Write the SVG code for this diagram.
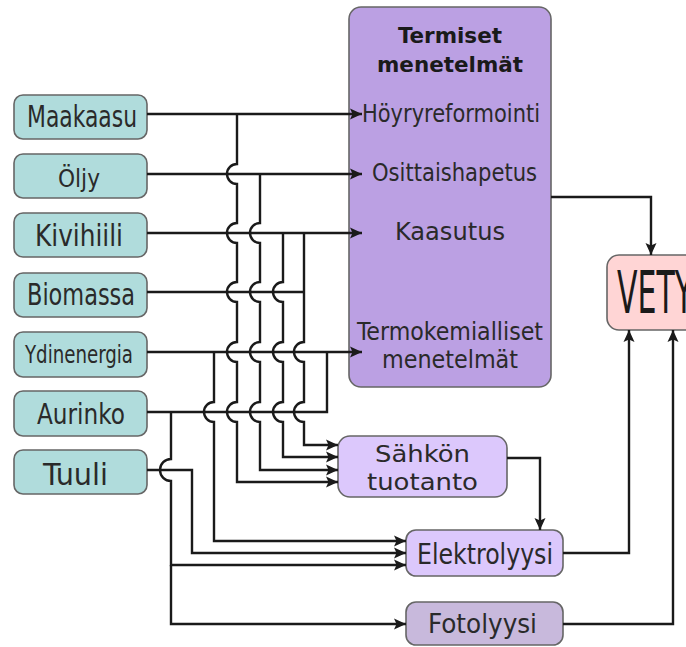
<svg xmlns="http://www.w3.org/2000/svg" width="686" height="647" viewBox="0 0 686 647">
<defs>
<marker id="ah" markerUnits="userSpaceOnUse" markerWidth="13" markerHeight="11" refX="12" refY="5.5" orient="auto" overflow="visible">
<path d="M0,0 L12,5.5 L0,11 L2.5,5.5 z" fill="#1a1a1a"/>
</marker>
<style>
.src rect{fill:#b0dcdc;stroke:#666;stroke-width:1.6}
.t{font-family:"DejaVu Sans Condensed","DejaVu Sans","Liberation Sans",sans-serif;font-stretch:condensed;fill:#2a2a2a;text-anchor:middle}
.b{font-weight:bold;fill:#1a1a1a}
.ln{fill:none;stroke:#1a1a1a;stroke-width:2.4}
.ar{marker-end:url(#ah)}
</style>
</defs>
<rect width="686" height="647" fill="#fff"/>

<g id="termiset">
<rect x="349" y="7" width="202" height="380" rx="12" fill="#bba0e3" stroke="#666" stroke-width="1.6"/>
<text class="t b" x="450" y="43" font-size="22" textLength="104" lengthAdjust="spacingAndGlyphs">Termiset</text>
<text class="t b" x="450" y="72" font-size="22" textLength="146" lengthAdjust="spacingAndGlyphs">menetelmät</text>
<text class="t" x="451" y="122" font-size="25" textLength="178" lengthAdjust="spacingAndGlyphs">Höyryreformointi</text>
<text class="t" x="454.5" y="181" font-size="24" textLength="165" lengthAdjust="spacingAndGlyphs">Osittaishapetus</text>
<text class="t" x="450" y="240" font-size="24" textLength="110" lengthAdjust="spacingAndGlyphs">Kaasutus</text>
<text class="t" x="450" y="340" font-size="24" textLength="186" lengthAdjust="spacingAndGlyphs">Termokemialliset</text>
<text class="t" x="450" y="368" font-size="24" textLength="136" lengthAdjust="spacingAndGlyphs">menetelmät</text>
</g>

<g id="vety">
<rect x="607" y="255" width="110" height="75" rx="12" fill="#ffd5d5" stroke="#666" stroke-width="1.6"/>
<text class="t" x="617" y="313" font-size="59" textLength="76" lengthAdjust="spacingAndGlyphs" style="text-anchor:start;fill:#1a1a1a">VETY</text>
</g>

<g id="sahkon">
<rect x="338" y="436" width="169" height="61" rx="12" fill="#dcc8fc" stroke="#666" stroke-width="1.6"/>
<text class="t" x="422.5" y="462" font-size="23" textLength="95" lengthAdjust="spacingAndGlyphs">Sähkön</text>
<text class="t" x="422.5" y="490" font-size="23" textLength="111" lengthAdjust="spacingAndGlyphs">tuotanto</text>
</g>

<g id="elektrolyysi">
<rect x="406" y="530" width="157" height="46" rx="10" fill="#dcc8fc" stroke="#666" stroke-width="1.6"/>
<text class="t" x="485" y="564" font-size="28" textLength="136" lengthAdjust="spacingAndGlyphs">Elektrolyysi</text>
</g>

<g id="fotolyysi">
<rect x="406" y="602" width="157" height="43" rx="10" fill="#c8b9dc" stroke="#666" stroke-width="1.6"/>
<text class="t" x="482.5" y="633" font-size="27" textLength="109" lengthAdjust="spacingAndGlyphs">Fotolyysi</text>
</g>

<g id="maakaasu" class="src"><rect x="14" y="95" width="133" height="44" rx="9"/>
<text class="t" x="82" y="127" font-size="30" textLength="110" lengthAdjust="spacingAndGlyphs">Maakaasu</text></g>
<g id="oljy" class="src"><rect x="14" y="154" width="133" height="44" rx="9"/>
<text class="t" x="79" y="187" font-size="25" textLength="42" lengthAdjust="spacingAndGlyphs">Öljy</text></g>
<g id="kivihiili" class="src"><rect x="14" y="213" width="133" height="44" rx="9"/>
<text class="t" x="79" y="246" font-size="30" textLength="88" lengthAdjust="spacingAndGlyphs">Kivihiili</text></g>
<g id="biomassa" class="src"><rect x="14" y="273" width="133" height="44" rx="9"/>
<text class="t" x="81" y="305" font-size="30" textLength="108" lengthAdjust="spacingAndGlyphs">Biomassa</text></g>
<g id="ydinenergia" class="src"><rect x="14" y="332" width="133" height="45" rx="9"/>
<text class="t" x="79" y="363" font-size="25" textLength="108" lengthAdjust="spacingAndGlyphs">Ydinenergia</text></g>
<g id="aurinko" class="src"><rect x="14" y="391" width="133" height="45" rx="9"/>
<text class="t" x="81" y="424" font-size="29" textLength="88" lengthAdjust="spacingAndGlyphs">Aurinko</text></g>
<g id="tuuli" class="src"><rect x="14" y="450" width="133" height="44" rx="9"/>
<text class="t" x="75.5" y="485" font-size="31" textLength="65" lengthAdjust="spacingAndGlyphs">Tuuli</text></g>

<g id="connectors" class="ln">
<path class="ar" d="M147,114 H362"/>
<path class="ar" d="M147,174 H362"/>
<path class="ar" d="M147,233 H362"/>
<path class="ar" d="M147,352 H362"/>
<path d="M147,292 H304"/>
<path d="M147,412 H327 V352"/>
<path class="ar" d="M237,114 V164 A10,10 0 0 0 237,184 V223 A10,10 0 0 0 237,243 V282 A10,10 0 0 0 237,302 V342 A10,10 0 0 0 237,362 V402 A10,10 0 0 0 237,422 V482 H338"/>
<path class="ar" d="M260,174 V223 A10,10 0 0 0 260,243 V282 A10,10 0 0 0 260,302 V342 A10,10 0 0 0 260,362 V402 A10,10 0 0 0 260,422 V470 H338"/>
<path class="ar" d="M283,233 V282 A10,10 0 0 0 283,302 V342 A10,10 0 0 0 283,362 V402 A10,10 0 0 0 283,422 V457 H338"/>
<path class="ar" d="M304,233 V342 A10,10 0 0 0 304,362 V402 A10,10 0 0 0 304,422 V445 H338"/>
<path class="ar" d="M214,352 V402 A10,10 0 0 0 214,422 V541 H406"/>
<path class="ar" d="M147,470 H192 V553 H406"/>
<path class="ar" d="M171,412 V459 A11,11 0 0 0 171,481 V565 H406"/>
<path class="ar" d="M171,565 V624 H406"/>
<path class="ar" d="M551,197 H651 V255"/>
<path class="ar" d="M507,458 H540 V530"/>
<path class="ar" d="M563,553 H629 V330"/>
<path class="ar" d="M563,624 H673 V330"/>
</g>
</svg>
